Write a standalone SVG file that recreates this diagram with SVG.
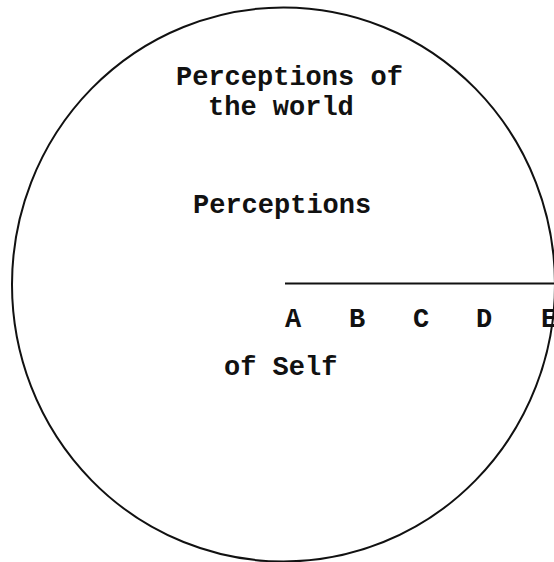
<svg xmlns="http://www.w3.org/2000/svg" width="554" height="562" viewBox="0 0 554 562">
<style>
  .t { font-family: "Liberation Mono", "Courier New", monospace; font-size: 27px; font-weight: bold; fill: #111; }
  .l { font-family: "Liberation Mono", "Courier New", monospace; font-size: 27px; font-weight: bold; fill: #111; text-anchor: middle; }
  .stroke { fill: none; stroke: #111; stroke-width: 2; }
</style>
<rect width="554" height="562" fill="#fff"/>
<g id="circle">
  <ellipse class="stroke" cx="283.5" cy="284.5" rx="271.5" ry="277"/>
</g>
<g id="world">
  <text class="t" x="176" y="85">Perceptions of</text>
  <text class="t" x="208" y="115">the world</text>
</g>
<g id="self">
  <text class="t" x="193" y="213">Perceptions</text>
  <text class="t" x="224" y="375">of Self</text>
</g>
<g id="connectors">
  <line class="stroke" x1="285" y1="283.5" x2="554" y2="283.5"/>
</g>
<g id="scale">
  <text class="l" x="293" y="327">A</text>
  <text class="l" x="357" y="327">B</text>
  <text class="l" x="421" y="327">C</text>
  <text class="l" x="484" y="327">D</text>
  <text class="l" x="549" y="327">E</text>
</g>
</svg>
